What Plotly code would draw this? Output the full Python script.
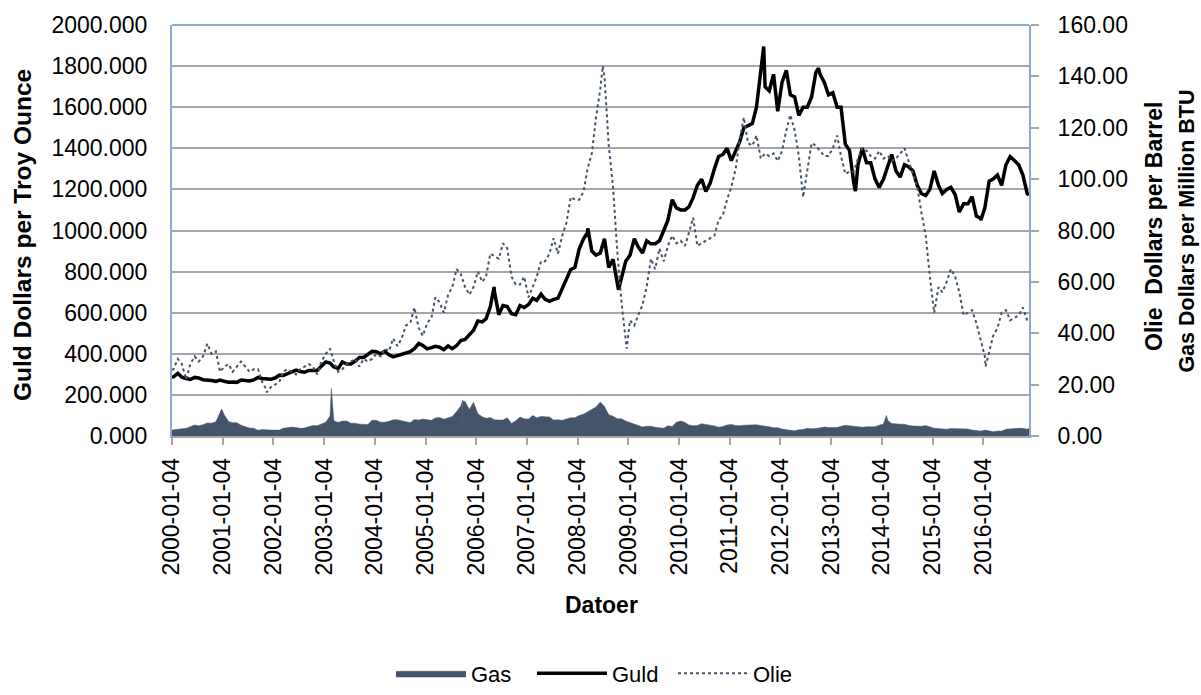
import pandas as pd
import plotly.graph_objects as go

# ---------------- data (monthly readings, mid-month, Jan 2000 .. Nov 2016) ----------------
gold_monthly = [
    288, 305, 286, 280, 275, 285, 282, 274, 273, 270, 266, 272,            # 2000
    266, 262, 263, 261, 272, 270, 268, 273, 285, 280, 276, 276,            # 2001
    282, 296, 294, 302, 314, 321, 314, 310, 319, 317, 319, 340,            # 2002
    360, 355, 336, 329, 360, 350, 350, 365, 382, 382, 395, 412,            # 2003
    410, 400, 412, 395, 385, 392, 398, 405, 410, 425, 450, 440,            # 2004
    424, 430, 436, 432, 420, 438, 425, 440, 465, 470, 490, 515,            # 2005
    560, 555, 570, 630, 700, 590, 635, 630, 595, 590, 635, 625,            # 2006
    640, 670, 660, 690, 665, 655, 665, 670, 720, 760, 810, 820,            # 2007
    910, 960, 990, 900, 880, 890, 960, 820, 860, 740, 770, 850,            # 2008
    880, 960, 920, 890, 950, 935, 935, 950, 1000, 1050, 1150, 1110,        # 2009
    1100, 1100, 1115, 1160, 1220, 1250, 1190, 1230, 1300, 1360, 1370, 1400,  # 2010
    1340, 1390, 1430, 1500, 1510, 1520, 1600, 1800, 1700, 1680, 1760, 1580,  # 2011
    1720, 1780, 1660, 1650, 1560, 1600, 1600, 1650, 1770, 1760, 1720, 1660,  # 2012
    1670, 1600, 1600, 1420, 1390, 1230, 1320, 1400, 1330, 1330, 1250, 1210,  # 2013
    1250, 1320, 1370, 1290, 1260, 1320, 1310, 1290, 1220, 1180, 1170, 1200,  # 2014
    1290, 1220, 1180, 1200, 1210, 1175, 1090, 1130, 1130, 1165, 1070, 1060,  # 2015
    1110, 1240, 1250, 1270, 1220, 1320, 1360, 1340, 1320, 1270, 1180,        # 2016
]
gold_extra_dates = ["2000-01-04", "2006-05-12", "2008-03-17", "2008-10-24",
                    "2011-09-05", "2012-10-04", "2013-06-27", "2015-12-17", "2016-11-28"]
gold_extra_values = [287, 725, 1011, 712, 1895, 1790, 1192, 1050, 1173]

oil_monthly = [
    26, 30, 28, 22, 28, 31, 29, 31, 36, 32, 33, 25,            # 2000
    27, 28, 25, 27, 29, 27, 25, 26, 26, 21, 18, 19,            # 2001
    20, 21, 25, 26, 25, 24, 26, 27, 28, 27, 24, 29,            # 2002
    32, 34, 29, 25, 26, 28, 29, 30, 27, 30, 29, 30,            # 2003
    32, 31, 34, 33, 38, 35, 38, 43, 44, 50, 42, 39,            # 2004
    44, 46, 54, 52, 48, 55, 58, 65, 63, 58, 55, 58,            # 2005
    64, 60, 62, 71, 70, 69, 75, 73, 62, 59, 59, 62,            # 2006
    54, 58, 62, 68, 68, 71, 77, 71, 78, 83, 93, 92,            # 2007
    92, 95, 104, 110, 124, 135, 140, 113, 97, 72, 52, 38,      # 2008
    45, 43, 47, 51, 58, 69, 65, 73, 68, 74, 78, 75,            # 2009
    76, 74, 79, 85, 74, 75, 76, 77, 78, 84, 86, 92,            # 2010
    97, 104, 115, 124, 114, 113, 117, 108, 110, 109, 110, 107,  # 2011
    111, 119, 125, 119, 109, 93, 103, 114, 113, 111, 109, 109,  # 2012
    112, 117, 109, 102, 103, 103, 108, 112, 111, 109, 108, 111,  # 2013
    108, 109, 107, 108, 110, 112, 107, 102, 97, 87, 78, 62,     # 2014
    48, 58, 56, 60, 65, 62, 56, 47, 48, 49, 44, 37,             # 2015
    31, 33, 39, 42, 48, 49, 45, 46, 47, 50, 45,                 # 2016
]
oil_extra_dates = ["2000-01-04", "2001-11-16", "2008-07-03", "2008-12-22",
                   "2016-01-20", "2016-11-28"]
oil_extra_values = [25.7, 17, 144, 34, 27, 44]

gas_monthly = [
    2.4, 2.7, 2.8, 3.0, 3.6, 4.3, 4.0, 4.4, 5.1, 5.0, 5.5, 8.9,      # 2000
    8.2, 5.6, 5.2, 5.2, 4.2, 3.7, 3.1, 3.0, 2.2, 2.5, 2.3, 2.3,      # 2001
    2.3, 2.3, 3.0, 3.4, 3.5, 3.3, 3.0, 3.1, 3.6, 4.1, 4.0, 4.7,      # 2002
    5.4, 7.7, 5.9, 5.3, 5.8, 5.8, 5.0, 5.0, 4.6, 4.6, 4.5, 6.1,      # 2003
    6.1, 5.4, 5.4, 5.7, 6.3, 6.3, 5.9, 5.4, 5.2, 6.4, 6.2, 6.6,      # 2004
    6.2, 6.1, 7.0, 7.2, 6.5, 7.2, 7.6, 9.5, 11.8, 13.4, 10.3, 13.1,  # 2005
    8.7, 7.5, 6.9, 7.2, 6.3, 6.2, 6.2, 7.1, 4.9, 5.9, 7.4, 6.7,      # 2006
    6.6, 8.0, 7.1, 7.6, 7.6, 7.4, 6.2, 6.3, 6.1, 6.7, 7.1, 7.1,      # 2007
    8.0, 8.5, 9.4, 10.2, 11.3, 13.2, 11.5, 8.3, 7.7, 6.7, 6.7, 5.8,  # 2008
    5.2, 4.5, 4.0, 3.5, 3.8, 3.8, 3.4, 3.1, 3.0, 4.0, 3.7, 5.4,      # 2009
    5.8, 5.3, 4.3, 4.0, 4.1, 4.8, 4.6, 4.3, 3.9, 3.4, 3.7, 4.3,      # 2010
    4.5, 4.1, 4.0, 4.2, 4.3, 4.5, 4.4, 4.1, 3.9, 3.6, 3.2, 3.2,      # 2011
    2.7, 2.5, 2.2, 2.0, 2.4, 2.5, 3.0, 2.8, 2.9, 3.3, 3.5, 3.3,      # 2012
    3.3, 3.3, 3.8, 4.2, 4.0, 3.8, 3.6, 3.4, 3.6, 3.7, 3.6, 4.2,      # 2013
    4.7, 6.0, 4.9, 4.7, 4.6, 4.6, 4.1, 3.9, 3.9, 3.8, 4.1, 3.5,      # 2014
    3.0, 2.9, 2.8, 2.6, 2.9, 2.8, 2.8, 2.8, 2.7, 2.3, 2.1, 1.9,      # 2015
    2.3, 2.0, 1.7, 1.9, 1.9, 2.6, 2.8, 2.8, 3.0, 3.0, 2.6,           # 2016
]
gas_extra_dates = ["2000-01-04", "2000-12-27", "2003-02-25", "2005-09-28",
                   "2005-09-29", "2005-09-30", "2014-02-05", "2016-11-28"]
gas_extra_values = [2.3, 10.5, 18.5, 14.0, 0.0, 13.5, 8.0, 3.0]

tick_labels = ["%d-01-04" % y for y in range(2000, 2017)]
x_start, x_end = "2000-01-04", "2016-11-28"

month_dates = pd.date_range("2000-01-01", "2016-11-01", freq="MS") + pd.Timedelta(days=14)


def build(values, extra_dates, extra_values):
    df = pd.DataFrame({"d": list(month_dates) + list(pd.to_datetime(extra_dates)),
                       "v": list(values) + list(extra_values)})
    df = df.sort_values("d")
    return df["d"], df["v"]


gx, gy = build(gold_monthly, gold_extra_dates, gold_extra_values)
ox, oy = build(oil_monthly, oil_extra_dates, oil_extra_values)
sx, sy = build(gas_monthly, gas_extra_dates, gas_extra_values)

SLATE = "#44546A"
FONT = "Liberation Sans"
AXBLUE = "#8EAAD0"
GRID = "#A6A6A6"

fig = go.Figure()
fig.add_trace(go.Scatter(x=sx, y=sy, name="Gas", yaxis="y2", mode="lines",
                         line=dict(width=0.5, color=SLATE), fill="tozeroy",
                         fillcolor=SLATE))
fig.add_trace(go.Scatter(x=gx, y=gy, name="Guld", yaxis="y", mode="lines",
                         line=dict(width=3.5, color="black")))
fig.add_trace(go.Scatter(x=ox, y=oy, name="Olie", yaxis="y2", mode="lines",
                         line=dict(width=2, color=SLATE, dash="dot")))

fig.update_layout(
    width=1201, height=695,
    margin=dict(l=172, r=172, t=25, b=259, autoexpand=False),
    paper_bgcolor="white", plot_bgcolor="white",
    font=dict(family=FONT, size=23, color="black"),
    showlegend=True,
    legend=dict(orientation="h", x=0.2555, xanchor="left", y=-0.629, yanchor="bottom",
                font=dict(size=22, family=FONT), traceorder="normal",
                itemwidth=70, entrywidth=56, entrywidthmode="pixels"),
    xaxis=dict(type="date", range=[x_start, x_end],
               tickvals=tick_labels, ticktext=tick_labels, tickangle=-90,
               ticks="outside", ticklen=7, tickcolor=GRID, tickwidth=1.5,
               ticklabelstandoff=4,
               showgrid=False, showline=True, linecolor=GRID, linewidth=1.5,
               tickfont=dict(size=23, family=FONT), layer="below traces",
               automargin=False),
    yaxis=dict(range=[0, 2000], dtick=200, tickformat=".3f",
               showgrid=True, gridcolor=GRID, gridwidth=1.5,
               showline=True, linecolor=AXBLUE, linewidth=2,
               ticks="outside", ticklen=18, tickcolor="rgba(0,0,0,0)",
               zeroline=False, tickfont=dict(size=23, family=FONT), automargin=False),
    yaxis2=dict(range=[0, 160], dtick=20, tickformat=".2f", overlaying="y", side="right",
                showgrid=False, showline=True, linecolor=AXBLUE, linewidth=2,
                ticks="outside", ticklen=8, tickcolor=GRID, tickwidth=1.5,
                ticklabelstandoff=14, automargin=False,
                zeroline=False, tickfont=dict(size=23, family=FONT)),
    shapes=[dict(type="line", xref="paper", yref="paper", x0=0, x1=1, y0=1, y1=1,
                 line=dict(color=AXBLUE, width=2))],
    annotations=[
        dict(text="<b>Guld Dollars per Troy Ounce</b>", xref="paper", yref="paper",
             x=-0.175, y=0.489, textangle=-90, showarrow=False,
             xanchor="center", yanchor="middle", font=dict(size=24.5, family=FONT)),
        dict(text="<b>Olie  Dollars per Barrel</b>", xref="paper", yref="paper",
             x=1.146, y=0.509, textangle=-90, showarrow=False,
             xanchor="center", yanchor="middle", font=dict(size=23, family=FONT)),
        dict(text="<b>Gas Dollars per Million BTU</b>", xref="paper", yref="paper",
             x=1.184, y=0.499, textangle=-90, showarrow=False,
             xanchor="center", yanchor="middle", font=dict(size=21.5, family=FONT)),
        dict(text="<b>Datoer</b>", xref="paper", yref="paper",
             x=0.5006, y=-0.411, showarrow=False,
             xanchor="center", yanchor="middle", font=dict(size=23, family=FONT)),
    ],
)

fig.write_html("out.html", config={"displayModeBar": False},
               post_script="document.body.style.margin='0';")
